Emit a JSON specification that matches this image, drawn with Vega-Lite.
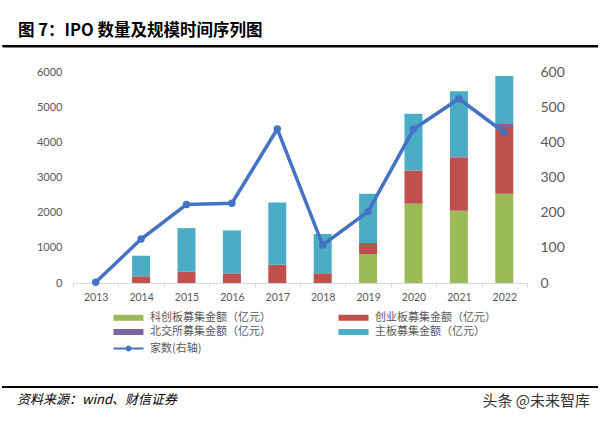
{
  "$schema": "https://vega.github.io/schema/vega-lite/v6.json",
  "background": "white",
  "padding": {"left": 2, "right": 0, "top": 22, "bottom": 3},
  "spacing": 26,
  "bounds": "flush",
  "center": true,
  "config": {
    "view": {"stroke": null},
    "font": "Lato",
    "axis": {"labelColor": "#595959", "labelFont": "Lato", "grid": false, "title": null}
  },
  "datasets": {
    "bars": [
      {"年份": 2014, "板块": "科创板募集金额（亿元）", "金额": 0},
      {"年份": 2014, "板块": "创业板募集金额（亿元）", "金额": 190},
      {"年份": 2014, "板块": "北交所募集金额（亿元）", "金额": 0},
      {"年份": 2014, "板块": "主板募集金额（亿元）", "金额": 585},
      {"年份": 2015, "板块": "科创板募集金额（亿元）", "金额": 0},
      {"年份": 2015, "板块": "创业板募集金额（亿元）", "金额": 320},
      {"年份": 2015, "板块": "北交所募集金额（亿元）", "金额": 0},
      {"年份": 2015, "板块": "主板募集金额（亿元）", "金额": 1240},
      {"年份": 2016, "板块": "科创板募集金额（亿元）", "金额": 0},
      {"年份": 2016, "板块": "创业板募集金额（亿元）", "金额": 275},
      {"年份": 2016, "板块": "北交所募集金额（亿元）", "金额": 0},
      {"年份": 2016, "板块": "主板募集金额（亿元）", "金额": 1220},
      {"年份": 2017, "板块": "科创板募集金额（亿元）", "金额": 0},
      {"年份": 2017, "板块": "创业板募集金额（亿元）", "金额": 520},
      {"年份": 2017, "板块": "北交所募集金额（亿元）", "金额": 0},
      {"年份": 2017, "板块": "主板募集金额（亿元）", "金额": 1770},
      {"年份": 2018, "板块": "科创板募集金额（亿元）", "金额": 0},
      {"年份": 2018, "板块": "创业板募集金额（亿元）", "金额": 275},
      {"年份": 2018, "板块": "北交所募集金额（亿元）", "金额": 0},
      {"年份": 2018, "板块": "主板募集金额（亿元）", "金额": 1115},
      {"年份": 2019, "板块": "科创板募集金额（亿元）", "金额": 820},
      {"年份": 2019, "板块": "创业板募集金额（亿元）", "金额": 317},
      {"年份": 2019, "板块": "北交所募集金额（亿元）", "金额": 0},
      {"年份": 2019, "板块": "主板募集金额（亿元）", "金额": 1400},
      {"年份": 2020, "板块": "科创板募集金额（亿元）", "金额": 2255},
      {"年份": 2020, "板块": "创业板募集金额（亿元）", "金额": 945},
      {"年份": 2020, "板块": "北交所募集金额（亿元）", "金额": 0},
      {"年份": 2020, "板块": "主板募集金额（亿元）", "金额": 1615},
      {"年份": 2021, "板块": "科创板募集金额（亿元）", "金额": 2055},
      {"年份": 2021, "板块": "创业板募集金额（亿元）", "金额": 1508},
      {"年份": 2021, "板块": "北交所募集金额（亿元）", "金额": 40},
      {"年份": 2021, "板块": "主板募集金额（亿元）", "金额": 1850},
      {"年份": 2022, "板块": "科创板募集金额（亿元）", "金额": 2540},
      {"年份": 2022, "板块": "创业板募集金额（亿元）", "金额": 1895},
      {"年份": 2022, "板块": "北交所募集金额（亿元）", "金额": 110},
      {"年份": 2022, "板块": "主板募集金额（亿元）", "金额": 1340}
    ],
    "count": [
      {"年份": 2013, "家数": 2},
      {"年份": 2014, "家数": 125},
      {"年份": 2015, "家数": 223},
      {"年份": 2016, "家数": 227},
      {"年份": 2017, "家数": 438},
      {"年份": 2018, "家数": 108},
      {"年份": 2019, "家数": 203},
      {"年份": 2020, "家数": 437},
      {"年份": 2021, "家数": 524},
      {"年份": 2022, "家数": 428}
    ]
  },
  "vconcat": [
    {
      "width": 596,
      "height": 1,
      "layer": [
        {
          "data": {"values": [{"起点": 0, "终点": 1}]},
          "mark": {"type": "rect", "color": "#000"},
          "encoding": {
            "x": {"field": "起点", "type": "quantitative", "scale": {"domain": [0, 1], "nice": false},
              "axis": {"orient": "bottom", "domain": true, "domainColor": "#000", "domainWidth": 2, "ticks": false, "labels": false, "grid": false, "title": null}},
            "x2": {"field": "终点"}
          }
        },
        {
          "data": {"values": [{"位置": "左", "文字": "图 7：IPO 数量及规模时间序列图"}]},
          "mark": {"type": "text", "align": "left", "baseline": "alphabetic", "dy": -10, "dx": 16, "font": "Noto Sans CJK SC", "fontWeight": "bold", "fontSize": 16.5, "color": "#000"},
          "encoding": {"text": {"field": "文字"}, "x": {"field": "位置", "type": "nominal", "scale": {"type": "point", "domain": ["左", "右"], "padding": 0}, "axis": null}}
        }
      ],
      "resolve": {"scale": {"x": "independent"}}
    },
    {
      "width": 454,
      "height": 211,
      "layer": [
        {
          "data": {"name": "bars"},
          "transform": [
            {"calculate": "indexof(['科创板募集金额（亿元）', '创业板募集金额（亿元）', '北交所募集金额（亿元）', '主板募集金额（亿元）'], datum['板块'])", "as": "堆叠顺序"}
          ],
          "mark": {"type": "bar", "size": 18},
          "encoding": {
            "x": {"field": "年份", "type": "ordinal", "scale": {"paddingInner": 0, "paddingOuter": 0},
              "axis": {"labelAngle": 0, "labelFontSize": 10.5, "domainColor": "#d9d9d9", "tickColor": "#d9d9d9", "tickSize": 4, "tickBand": "extent", "labelPadding": 5}},
            "y": {"field": "金额", "type": "quantitative", "stack": "zero", "scale": {"domain": [0, 6000]},
              "axis": {"values": [0, 1000, 2000, 3000, 4000, 5000, 6000], "format": "d", "domain": false, "ticks": false, "labelPadding": 11, "labelFontSize": 11}},
            "order": {"field": "堆叠顺序", "type": "quantitative", "sort": "ascending"},
            "color": {"field": "板块", "type": "nominal",
              "scale": {"domain": ["科创板募集金额（亿元）", "创业板募集金额（亿元）", "北交所募集金额（亿元）", "主板募集金额（亿元）"], "range": ["#9BBB59", "#C0504D", "#8064A2", "#4BACC6"]},
              "legend": {"orient": "none", "direction": "horizontal", "legendX": 50, "legendY": 240, "title": null, "columns": 2, "padding": 0,
                "symbolType": "M-3,-0.6H3V0.6H-3Z", "symbolSize": 100, "symbolStrokeWidth": 0, "labelOffset": 16,
                "labelFontSize": 11, "labelFont": "Noto Sans CJK SC", "labelColor": "#595959", "rowPadding": 2.5, "columnPadding": 67}}
          }
        },
        {
          "data": {"name": "count"},
          "mark": {"type": "line", "color": "#4472C4", "strokeWidth": 3.5, "point": {"size": 55, "filled": true, "color": "#4472C4"}},
          "encoding": {
            "x": {"field": "年份", "type": "ordinal"},
            "y": {"field": "家数", "type": "quantitative", "scale": {"domain": [0, 600]},
              "axis": {"orient": "right", "values": [0, 100, 200, 300, 400, 500, 600], "domain": false, "ticks": false, "labelPadding": 13, "labelFontSize": 14}},
            "color": {"datum": "家数(右轴)", "scale": {"range": ["#4472C4"]},
              "legend": {"orient": "none", "legendX": 50, "legendY": 271, "title": null, "padding": 0,
                "symbolType": "M-3,-0.2H3V0.2H-3Z M-0.6,0A0.6,0.6 0 1,1 0.6,0A0.6,0.6 0 1,1 -0.6,0Z", "symbolSize": 100, "labelOffset": 16,
                "labelFontSize": 11, "labelFont": "Noto Sans CJK SC", "labelColor": "#595959",
                "encode": {"symbols": {"update": {"fill": {"value": "#4472C4"}, "stroke": {"value": "#4472C4"}, "strokeWidth": {"value": 0}}}}}}
          }
        }
      ],
      "resolve": {"scale": {"y": "independent", "color": "independent"}}
    },
    {
      "width": 10,
      "height": 51,
      "data": {"values": [{"空": ""}]},
      "mark": {"type": "text"},
      "encoding": {"text": {"field": "空"}}
    },
    {
      "width": 596,
      "height": 2,
      "layer": [
        {
          "data": {"values": [{"起": 0, "止": 1}]},
          "mark": {"type": "rect", "color": "#000"},
          "encoding": {
            "x": {"field": "起", "type": "quantitative", "scale": {"domain": [0, 1]}, "axis": null},
            "x2": {"field": "止"}
          }
        },
        {
          "data": {"values": [{"位置": "左", "文字": "资料来源：wind、财信证券"}]},
          "mark": {"type": "text", "align": "left", "baseline": "middle", "dy": 13, "dx": 15, "font": "Noto Sans CJK SC", "fontStyle": "italic", "fontSize": 13, "color": "#000"},
          "encoding": {"text": {"field": "文字"}, "x": {"field": "位置", "type": "nominal", "scale": {"type": "point", "domain": ["左", "右"], "padding": 0}, "axis": null}}
        },
        {
          "data": {"values": [{"位置": "右", "文字": "头条 @未来智库"}]},
          "mark": {"type": "text", "align": "right", "baseline": "middle", "dy": 14, "dx": -8, "font": "Noto Sans CJK SC", "fontSize": 15, "color": "#333"},
          "encoding": {"text": {"field": "文字"}, "x": {"field": "位置", "type": "nominal", "scale": {"type": "point", "domain": ["左", "右"], "padding": 0}, "axis": null}}
        }
      ],
      "resolve": {"scale": {"x": "independent"}}
    }
  ]
}
